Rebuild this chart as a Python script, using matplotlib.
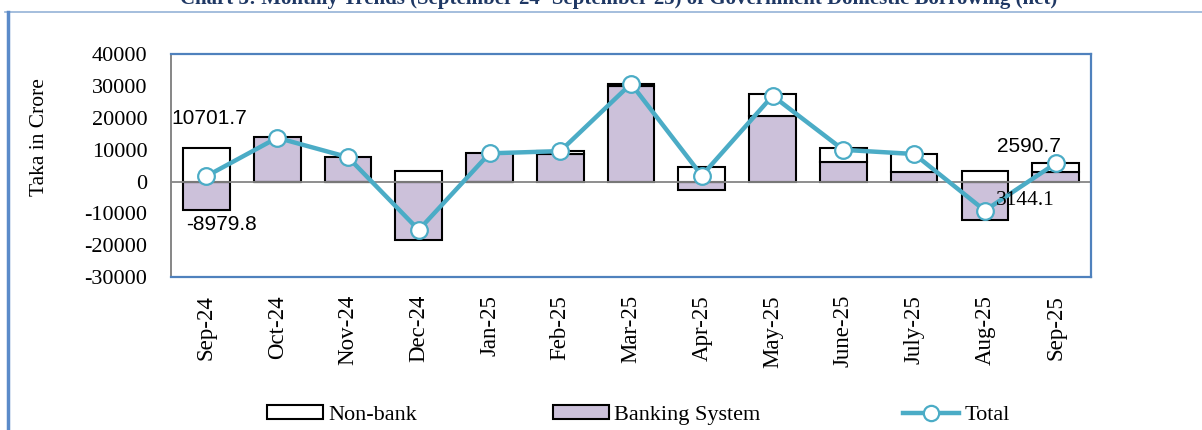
import matplotlib
matplotlib.use("Agg")
import matplotlib.pyplot as plt
import numpy as np
from matplotlib.lines import Line2D
from matplotlib.patches import Patch

plt.rcParams["axes.unicode_minus"] = False

months = ["Sep-24", "Oct-24", "Nov-24", "Dec-24", "Jan-25", "Feb-25", "Mar-25",
          "Apr-25", "May-25", "June-25", "July-25", "Aug-25", "Sep-25"]
banking = [-8979.8, 14000, 7900, -18400, 9100, 8700, 30200, -2500, 20700, 6200, 3000, -12100, 3144.1]
nonbank = [10701.7, 0, 0, 3400, 0, 800, 600, 4700, 6800, 4300, 5600, 3400, 2590.7]
total = [1721.9, 13800, 7700, -15200, 8900, 9600, 30800, 1900, 27000, 10000, 8700, -9100, 5734.8]
title = "Chart 3: Monthly Trends (September'24- September'25) of Government Domestic Borrowing (net)"

serif = "Liberation Serif"
sans = "Liberation Sans"
purple = "#CCC1DA"
teal = "#4BACC6"
blue = "#4F81BD"

fig = plt.figure(figsize=(12.02, 4.30), dpi=100)
ax = fig.add_axes([0.1423, 0.3558, 0.7654, 0.5175])

x = np.arange(len(months))
bank = np.array(banking)
nb = np.array(nonbank)
# non-bank stacks on banking when same sign, else starts from zero
nb_bottom = np.where(np.sign(nb) == np.sign(bank), bank, 0)

ax.bar(x, bank, width=0.66, color=purple, edgecolor="black", linewidth=1.5, zorder=2)
ax.bar(x, nb, bottom=nb_bottom, width=0.66, color="white", edgecolor="black", linewidth=1.5, zorder=2)
ax.axhline(0, color="#868686", lw=1.3, zorder=2.5)
ax.plot(x, total, color=teal, lw=3.2, marker="o", markersize=12, markerfacecolor="white",
        markeredgecolor=teal, markeredgewidth=1.6, zorder=3)

ax.set_xlim(-0.5, len(months) - 0.5)
ax.set_ylim(-30000, 40000)
ax.set_yticks(np.arange(-30000, 40001, 10000))
ax.set_xticks(x)
ax.set_xticklabels(months, rotation=90, fontfamily=serif, fontsize=16.5)
for lab in ax.get_yticklabels():
    lab.set_fontfamily(serif)
    lab.set_fontsize(16)
ax.tick_params(axis="y", length=0, pad=17)
ax.tick_params(axis="x", length=0, pad=13)
for s in ["top", "right", "bottom"]:
    ax.spines[s].set_color(blue)
    ax.spines[s].set_linewidth(1.6)
ax.spines["left"].set_color("#868686")
ax.spines["left"].set_linewidth(1.4)

# data labels
ax.annotate("10701.7", (0, nonbank[0]), xytext=(2, 21), textcoords="offset points",
            ha="center", va="center", fontsize=15, fontfamily=sans)
ax.annotate("-8979.8", (0, banking[0]), xytext=(11, -10), textcoords="offset points",
            ha="center", va="center", fontsize=15, fontfamily=sans)
ax.annotate("2590.7", (12, banking[12] + nonbank[12]), xytext=(-19, 12), textcoords="offset points",
            ha="center", va="center", fontsize=15, fontfamily=sans)
ax.annotate("3144.1", (12, banking[12]), xytext=(-22, -21), textcoords="offset points",
            ha="center", va="center", fontsize=15.5, fontfamily=serif)

fig.text(39 / 1202, 1 - 137 / 430, "Taka in Crore", rotation=90, ha="center", va="center",
         fontsize=15.5, fontfamily=serif)

# cut-off title and outer frame
fig.text(0.515, 1 - 4 / 430, title, ha="center", va="baseline", fontsize=15,
         fontweight="bold", fontfamily=serif, color="#1F3864")
fig.add_artist(Line2D([5 / 1202, 1], [1 - 12 / 430] * 2, color="#95B3D7", lw=1.2))
fig.add_artist(Line2D([8 / 1202] * 2, [0, 1 - 12 / 430], color="#5B8BC9", lw=2.5))

# legend entries
ly = 1 - 415 / 430
h_nb = Patch(facecolor="white", edgecolor="black", linewidth=1.5)
h_bk = Patch(facecolor=purple, edgecolor="black", linewidth=1.5)
h_tot = Line2D([], [], color=teal, lw=3.2, marker="o", markersize=11, markerfacecolor="white",
               markeredgecolor=teal, markeredgewidth=1.6)
for h, lab, xs in [(h_nb, "Non-bank", 267), (h_bk, "Banking System", 553), (h_tot, "Total", 903)]:
    fig.legend([h], [lab], loc="center left", bbox_to_anchor=(xs / 1202, ly), frameon=False,
               borderpad=0, borderaxespad=0, handlelength=2.5, handleheight=0.6, handletextpad=0.25,
               prop={"family": serif, "size": 16})

fig.savefig("out.png", dpi=100)
